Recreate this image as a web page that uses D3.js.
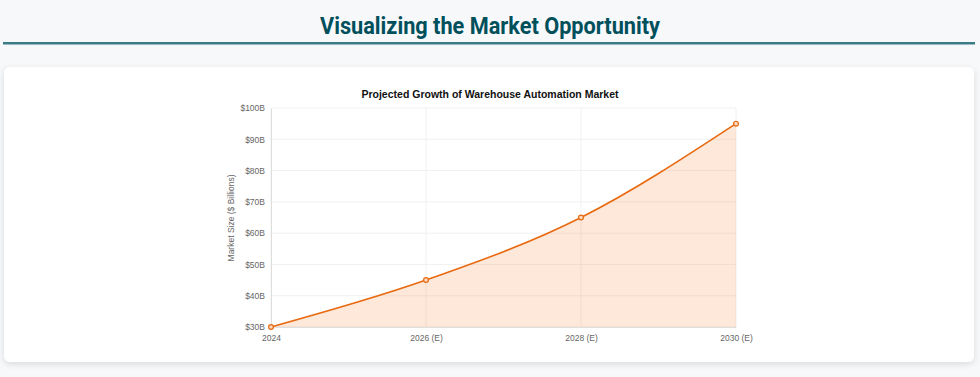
<!DOCTYPE html>
<meta charset="utf-8">
<style>
    body { margin: 0; background: #f7f8fa; }
    svg text { font-family: "Liberation Sans", Arial, sans-serif; }
</style>
<body>
<script src="https://d3js.org/d3.v7.min.js"></script>
<script>
    var years = ["2024", "2026 (E)", "2028 (E)", "2030 (E)"];
    var marketSize = [30, 45, 65, 95];
    var yTicks = [30, 40, 50, 60, 70, 80, 90, 100];

    var width = 980, height = 377;
    var orange = "#e8690f";

    var svg = d3.select("body").append("svg")
        .attr("width", width)
        .attr("height", height);

    var defs = svg.append("defs");
    var shadow = defs.append("filter").attr("id", "shadow")
        .attr("x", "-5%").attr("y", "-10%").attr("width", "110%").attr("height", "125%");
    shadow.append("feDropShadow")
        .attr("dx", 0).attr("dy", 2).attr("stdDeviation", 3)
        .attr("flood-color", "#000").attr("flood-opacity", 0.12);

    // page heading
    svg.append("text")
        .attr("x", 490).attr("y", 34)
        .attr("text-anchor", "middle")
        .attr("textLength", 340)
        .attr("lengthAdjust", "spacingAndGlyphs")
        .style("font-family", "Roboto, sans-serif")
        .style("font-weight", "bold")
        .style("font-size", "24px")
        .attr("fill", "#00505c")
        .text("Visualizing the Market Opportunity");

    svg.append("rect")
        .attr("x", 3).attr("y", 42).attr("width", 972).attr("height", 2.5)
        .attr("fill", "#3a7b85");

    // card
    svg.append("rect")
        .attr("x", 4).attr("y", 67).attr("width", 970).attr("height", 295)
        .attr("rx", 6)
        .attr("fill", "#fff")
        .attr("filter", "url(#shadow)");

    var x = d3.scalePoint().domain(years).range([271, 736]);
    var y = d3.scaleLinear().domain([30, 100]).range([327, 108]);

    var g = svg.append("g");

    // grid
    g.selectAll(".hgrid").data(yTicks).enter().append("line")
        .attr("x1", 271).attr("x2", 736)
        .attr("y1", function (d) { return y(d); })
        .attr("y2", function (d) { return y(d); })
        .attr("stroke", "#f0f0f0").attr("stroke-width", 1);

    g.selectAll(".vgrid").data(years).enter().append("line")
        .attr("x1", function (d) { return x(d); })
        .attr("x2", function (d) { return x(d); })
        .attr("y1", 108).attr("y2", 327)
        .attr("stroke", "#f0f0f0").attr("stroke-width", 1);

    // axes
    var yAxis = g.append("g")
        .attr("transform", "translate(271,0)")
        .call(d3.axisLeft(y).tickValues(yTicks).tickSize(0).tickPadding(6)
            .tickFormat(function (d) { return "$" + d + "B"; }));
    yAxis.select(".domain").attr("stroke", "#dedede");
    yAxis.selectAll("text").style("font-size", "8.5px").attr("fill", "#666")
        .style("font-family", "'Liberation Sans', Arial, sans-serif");

    var xAxis = g.append("g")
        .attr("transform", "translate(0,327)")
        .call(d3.axisBottom(x).tickSize(0).tickPadding(8));
    xAxis.select(".domain").attr("stroke", "#dedede");
    xAxis.selectAll("text").style("font-size", "8.5px").attr("fill", "#666")
        .style("font-family", "'Liberation Sans', Arial, sans-serif");

    var pts = years.map(function (d, i) { return [x(d), y(marketSize[i])]; });

    var area = d3.area()
        .x(function (d) { return d[0]; })
        .y0(y(30))
        .y1(function (d) { return d[1]; })
        .curve(d3.curveMonotoneX);

    var line = d3.line()
        .x(function (d) { return d[0]; })
        .y(function (d) { return d[1]; })
        .curve(d3.curveMonotoneX);

    g.append("path").datum(pts)
        .attr("d", area)
        .attr("fill", "rgba(245,130,50,0.18)");

    g.append("path").datum(pts)
        .attr("d", line)
        .attr("fill", "none")
        .attr("stroke", orange)
        .attr("stroke-width", 1.6);

    g.selectAll(".pt").data(pts).enter().append("circle")
        .attr("cx", function (d) { return d[0]; })
        .attr("cy", function (d) { return d[1]; })
        .attr("r", 2.4)
        .attr("fill", "#fbd9c0")
        .attr("stroke", orange)
        .attr("stroke-width", 1.2);

    // chart title
    svg.append("text")
        .attr("x", 490).attr("y", 98)
        .attr("text-anchor", "middle")
        .style("font-size", "10.5px")
        .style("font-weight", "bold")
        .attr("fill", "#111")
        .text("Projected Growth of Warehouse Automation Market");

    // y label
    svg.append("text")
        .attr("transform", "translate(234,218) rotate(-90)")
        .attr("text-anchor", "middle")
        .style("font-size", "8.5px")
        .attr("fill", "#666")
        .text("Market Size ($ Billions)");
</script>
</body>
